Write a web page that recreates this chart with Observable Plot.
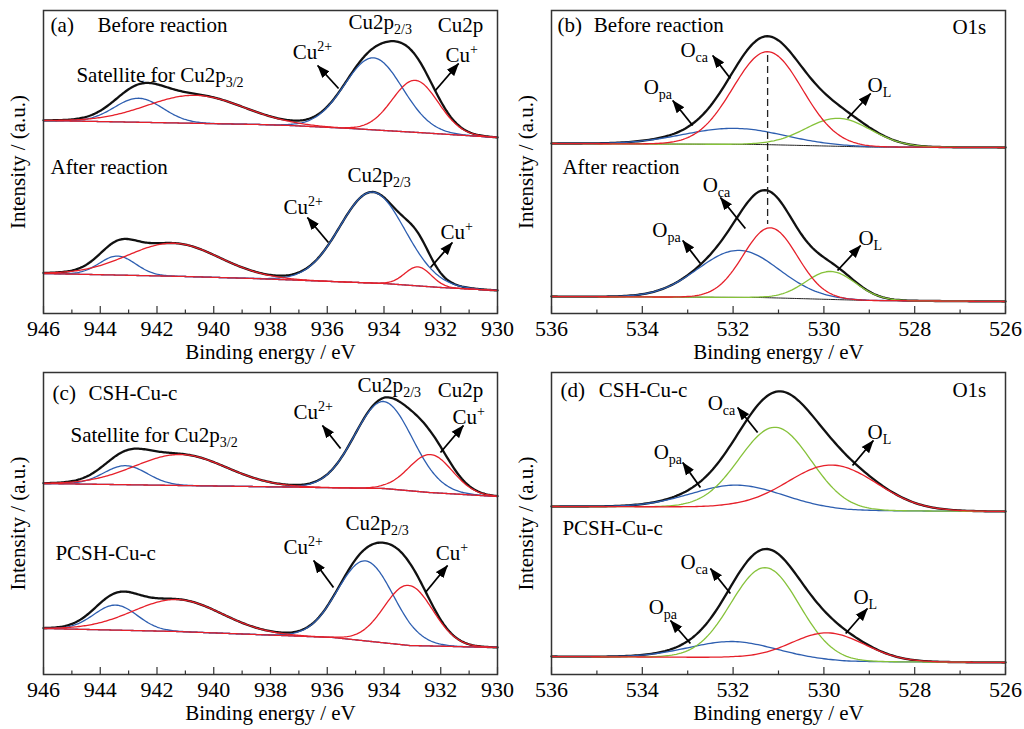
<!DOCTYPE html>
<html><head><meta charset="utf-8">
<script src="https://cdn.jsdelivr.net/npm/d3@7"></script>
<script src="https://cdn.jsdelivr.net/npm/@observablehq/plot@0.6"></script>
<style>
html,body{margin:0;padding:0;background:#fff;}
#chart{position:relative;width:1024px;height:729px;overflow:hidden;background:#fff;font-family:'Liberation Serif','Times New Roman',serif;}
.panel{position:absolute;}
.panel svg{background:transparent !important;}
</style></head><body><div id="chart"></div>
<script>
// ---------------- DATA ----------------
const cuMajorTicks = [946, 944, 942, 940, 938, 936, 934, 932, 930];
const cuMinorTicks = [945, 943, 941, 939, 937, 935, 933, 931];
const oMajorTicks = [536, 534, 532, 530, 528, 526];
const oMinorTicks = [535, 533, 531, 529, 527];

// Backgrounds: [binding energy (eV), intensity (a.u.)]
// Peaks: [component, centre (eV), height above background (a.u.), FWHM (eV)]
const aBeforeBackground = [[946,193],[938.4,189],[937.3,188],[935.2,185],[932.8,181],[930,176]];
const aBeforePeaks = [["Satellite 1",942.65,24,2.0],["Satellite 2",940.65,28,4.0],["Cu2+",934.37,72,2.4],["Cu+",932.9,52,1.9]];
const aAfterBackground = [[946,40],[941,37],[938.6,35],[934,30],[932,26],[930,23]];
const aAfterPeaks = [["Satellite 1",943.39,19,1.5],["Satellite 2",941.42,33,3.8],["Cu2+",934.41,91,2.7],["Cu+",932.8,19,1.1]];

const bBeforeBackground = [[536,170],[531.4,169],[529,166.5],[526,166]];
const bBeforePeaks = [["O_pa",531.99,16,2.6],["O_ca",531.24,93,1.8],["O_L",529.68,28,1.7]];
const bAfterBackground = [[536,17],[531.4,16],[529,13],[526,12]];
const bAfterPeaks = [["O_pa",531.88,47,2.1],["O_ca",531.18,70,1.4],["O_L",529.85,28,1.3]];

const cCshBackground = [[946,191],[941.2,189],[938.7,188],[934,186],[932.4,182],[930,178]];
const cCshPeaks = [["Satellite 1",943.11,19,1.8],["Satellite 2",941.17,31,3.8],["Cu2+",934.02,87,2.4],["Cu+",932.36,38,1.8]];
const cPcshBackground = [[946,46],[941.3,43],[937.6,39],[935.8,37],[933.1,29],[930,27]];
const cPcshPeaks = [["Satellite 1",943.46,25,1.8],["Satellite 2",941.28,32,3.7],["Cu2+",934.65,80,2.3],["Cu+",933.14,60,2.0]];

const dCshBackground = [[536,168],[532,167.5],[529.5,164],[526,163]];
const dCshPeaks = [["O_pa",531.9,22,2.4],["O_ca",531.07,81,1.85],["O_L",529.81,45,2.3]];
const dPcshBackground = [[536,18],[532,17],[529.5,13],[526,12]];
const dPcshPeaks = [["O_pa",532.0,16,2.3],["O_ca",531.29,91,1.76],["O_L",529.9,28,1.9]];

// Text annotations: [text, eV, intensity]; arrows: [eV1, y1, eV2, y2]
const aLabels = [["(a)",945.75,288],["Before reaction",944.1,288],["Satellite for Cu2p_{3/2}",944.84,238],["Cu2p_{2/3}",935.25,291],["Cu2p",932.11,288],["Cu^{2+}",937.22,261],["Cu^{+}",931.83,258],["After reaction",945.75,146],["Cu2p_{2/3}",935.29,138],["Cu^{2+}",937.54,106],["Cu^{+}",932.01,81]];
const aArrows = [[935.6,225,936.34,248],[932.19,223,931.37,250],[935.96,71,936.70,96],[932.36,46,931.59,71]];

const bLabels = [["(b)",535.87,288],["Before reaction",535.07,288],["O1s",527.17,286],["O_{ca}",533.16,263],["O_{pa}",533.97,226],["O_{L}",529.04,228],["After reaction",535.76,146],["O_{ca}",532.67,128],["O_{pa}",533.78,83],["O_{L}",529.24,75]];
const bArrows = [[532.06,235,532.45,258],[532.89,188,533.33,213],[529.48,195,528.97,220],[531.73,85,532.28,116],[532.72,50,533.11,73],[529.70,43,529.19,68]];
const bDashed = [[531.24,258,89]];

const cLabels = [["(c)",945.68,281],["CSH-Cu-c",944.41,281],["Satellite for Cu2p_{3/2}",945.05,239],["Cu2p_{2/3}",934.93,289],["Cu2p",932.11,284],["Cu^{2+}",937.19,262],["Cu^{+}",931.59,257],["Cu2p_{2/3}",935.36,151],["PCSH-Cu-c",945.58,121],["Cu^{2+}",937.54,127],["Cu^{+}",932.18,121]];
const cArrows = [[935.53,226,936.17,249],[932.01,222,931.20,249],[935.78,87,936.48,114],[932.54,82,931.76,109]];

const dLabels = [["(d)",535.80,284],["CSH-Cu-c",534.96,284],["O1s",527.17,284],["O_{ca}",532.56,271],["O_{pa}",533.75,222],["O_{L}",529.04,242],["PCSH-Cu-c",535.76,146],["O_{ca}",533.16,112],["O_{pa}",533.86,67],["O_{L}",529.35,77]];
const dArrows = [[531.46,242,531.90,267],[532.72,187,533.11,212],[529.37,209,528.91,234],[532.06,81,532.50,106],[532.94,31,533.38,54],[529.52,41,529.04,66]];

const xAxisTitle = "Binding energy / eV";
const yAxisTitle = "Intensity / (a.u.)";

// ---------------- RENDERING ----------------
const BLUE = "#2d5eb0", RED = "#e6202a", GREEN = "#86c23a";
const cuPalette = {"Satellite 1": BLUE, "Satellite 2": RED, "Cu2+": BLUE, "Cu+": RED};
const bPalette = {"O_pa": BLUE, "O_ca": RED, "O_L": GREEN};
const dPalette = {"O_pa": BLUE, "O_ca": GREEN, "O_L": RED};
const FONT = "Liberation Serif";
const STEP = 0.05;
const ns = "http://www.w3.org/2000/svg";

function lineShape(x, c, h, w) { return h * Math.exp(-4 * Math.LN2 * ((x - c) / w) ** 2); }

function buildSpectrum(bgPts, peaks, lo, hi) {
  const bg = d3.scaleLinear().domain(bgPts.map(d => d[0])).range(bgPts.map(d => d[1]));
  const n = Math.round((hi - lo) / STEP);
  const xs = d3.range(n + 1).map(i => lo + i * STEP);
  return {
    background: xs.map(x => ({x, y: bg(x)})),
    envelope: xs.map(x => ({x, y: bg(x) + d3.sum(peaks, p => lineShape(x, p[1], p[2], p[3]))})),
    components: peaks.map(p => ({name: p[0], points: xs.map(x => ({x, y: bg(x) + lineShape(x, p[1], p[2], p[3])}))}))
  };
}

function richText(svg) {
  svg.querySelectorAll("text").forEach(t => {
    t.setAttribute("font-family", FONT);
    t.style.fontFamily = "'Liberation Serif', serif";
    t.style.fontVariant = "normal";
    const s = t.textContent;
    if (!/[_^]\{/.test(s)) return;
    t.textContent = "";
    let shift = 0;
    for (const m of s.matchAll(/([_^])\{([^}]*)\}|([^_^]+)/g)) {
      const ts = document.createElementNS(ns, "tspan");
      let target = 0, txt = m[3];
      if (m[1]) { target = m[1] === "_" ? 5 : -8; txt = m[2]; ts.setAttribute("font-size", 14); }
      if (target !== shift) ts.setAttribute("dy", target - shift);
      shift = target;
      ts.textContent = txt;
      t.appendChild(ts);
    }
  });
}

function addArrowHeads(svg, id) {
  const defs = document.createElementNS(ns, "defs");
  const marker = document.createElementNS(ns, "marker");
  marker.setAttribute("id", "head-" + id);
  marker.setAttribute("viewBox", "0 0 12 10");
  marker.setAttribute("refX", 11.5);
  marker.setAttribute("refY", 5);
  marker.setAttribute("markerWidth", 13);
  marker.setAttribute("markerHeight", 11);
  marker.setAttribute("markerUnits", "userSpaceOnUse");
  marker.setAttribute("orient", "auto");
  const p = document.createElementNS(ns, "path");
  p.setAttribute("d", "M0,0.5 L12,5 L0,9.5 Z");
  p.setAttribute("fill", "#000");
  marker.appendChild(p);
  defs.appendChild(marker);
  svg.appendChild(defs);
  svg.querySelectorAll('g[aria-label="link"] path').forEach(el => el.setAttribute("marker-end", `url(#head-${id})`));
}

function panel(cfg) {
  const [hi, lo] = cfg.domain;
  const H = cfg.height - 10 - cfg.marginBottom;
  const marks = [];
  const specs = cfg.spectra.map(s => buildSpectrum(s[0], s[1], lo, hi));
  for (const s of specs) marks.push(Plot.line(s.envelope, {x: "x", y: "y", stroke: "#111", strokeWidth: 2.3}));
  if (cfg.bgStroke) for (const s of specs) marks.push(Plot.line(s.background, {x: "x", y: "y", stroke: cfg.bgStroke, strokeWidth: 1}));
  const order = [BLUE, GREEN, RED];
  const comps = specs.flatMap(s => s.components);
  comps.sort((a, b) => order.indexOf(cfg.palette[a.name]) - order.indexOf(cfg.palette[b.name]));
  for (const c of comps) marks.push(Plot.line(c.points, {x: "x", y: "y", stroke: cfg.palette[c.name], strokeWidth: 1.3}));
  if (cfg.dashed) marks.push(Plot.ruleX(cfg.dashed, {x: d => d[0], y1: d => d[1], y2: d => d[2], stroke: "#222", strokeWidth: 1.3, strokeDasharray: "7,4"}));
  const tf = {fontFamily: FONT, fontSize: 21};
  marks.push(
    Plot.ruleX(cfg.minor, {x: d => d, y1: 0, y2: 3.5, stroke: "#333", strokeWidth: 1.2}),
    Plot.ruleX(cfg.major, {x: d => d, y1: 0, y2: 7, stroke: "#333", strokeWidth: 1.2}),
    Plot.frame({stroke: "#333", strokeWidth: 1.5}),
    Plot.text(cfg.major, {x: d => d, y: () => 0, dy: 15, text: d => `${d}`, ...tf, fontSize: 22}),
    Plot.text([xAxisTitle], {x: () => (hi + lo) / 2, y: () => 0, dy: 39, text: d => d, ...tf}),
    Plot.text([yAxisTitle], {x: () => hi, y: () => H / 2, dx: -25, rotate: -90, text: d => d, ...tf}),
    Plot.text(cfg.labels, {x: d => d[1], y: d => d[2], text: d => d[0], textAnchor: "start", ...tf}),
    Plot.link(cfg.arrows, {x1: d => d[0], y1: d => d[1], x2: d => d[2], y2: d => d[3], stroke: "#000", strokeWidth: 1.8})
  );
  const svg = Plot.plot({
    width: 512, height: cfg.height,
    marginLeft: 43, marginRight: 15, marginTop: 10, marginBottom: cfg.marginBottom,
    x: {domain: [hi, lo], axis: null},
    y: {domain: [0, H], axis: null},
    style: {fontFamily: "'Liberation Serif', serif", fontSize: "21px", background: "transparent", overflow: "visible"},
    marks
  });
  richText(svg);
  addArrowHeads(svg, cfg.id);
  const div = document.createElement("div");
  div.className = "panel";
  div.style.left = cfg.left + "px";
  div.style.top = cfg.top + "px";
  div.appendChild(svg);
  document.getElementById("chart").appendChild(div);
}

panel({id: "a", left: 0, top: 0, height: 362, marginBottom: 49, domain: [946, 930], major: cuMajorTicks, minor: cuMinorTicks,
  spectra: [[aBeforeBackground, aBeforePeaks], [aAfterBackground, aAfterPeaks]], palette: cuPalette, labels: aLabels, arrows: aArrows});
panel({id: "b", left: 508, top: 0, height: 362, marginBottom: 49, domain: [536, 526], major: oMajorTicks, minor: oMinorTicks,
  spectra: [[bBeforeBackground, bBeforePeaks], [bAfterBackground, bAfterPeaks]], palette: bPalette, bgStroke: "#222", labels: bLabels, arrows: bArrows, dashed: bDashed});
panel({id: "c", left: 0, top: 362, height: 367, marginBottom: 55, domain: [946, 930], major: cuMajorTicks, minor: cuMinorTicks,
  spectra: [[cCshBackground, cCshPeaks], [cPcshBackground, cPcshPeaks]], palette: cuPalette, labels: cLabels, arrows: cArrows});
panel({id: "d", left: 508, top: 362, height: 367, marginBottom: 55, domain: [536, 526], major: oMajorTicks, minor: oMinorTicks,
  spectra: [[dCshBackground, dCshPeaks], [dPcshBackground, dPcshPeaks]], palette: dPalette, labels: dLabels, arrows: dArrows});
</script></body></html>
